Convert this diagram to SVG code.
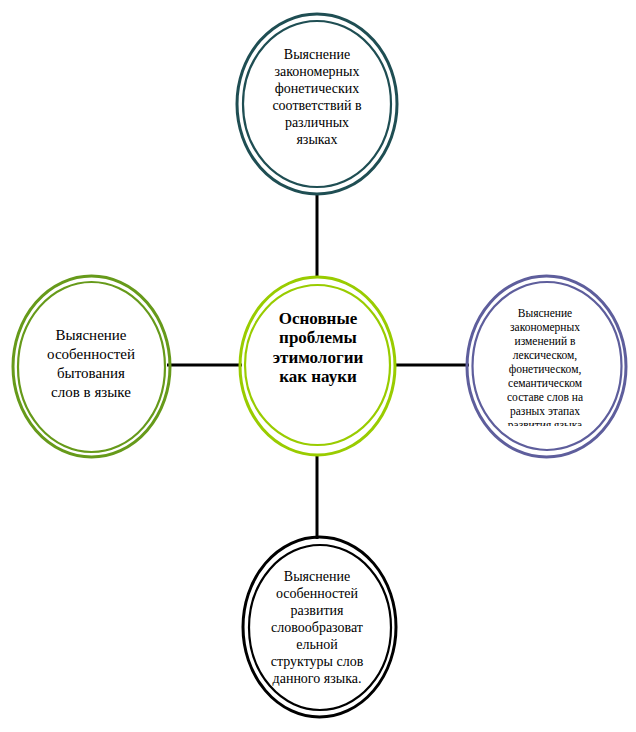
<svg xmlns="http://www.w3.org/2000/svg" width="636" height="732" viewBox="0 0 636 732">
<style>
.t{font-family:"Liberation Serif","Times New Roman",serif;text-anchor:middle;fill:#000}
.o{fill:none;stroke-width:3}
.i{fill:none;stroke-width:2.2}
.c{stroke:#000;stroke-width:3;fill:none}
</style>
<defs>
<clipPath id="rc"><rect x="460" y="270" width="176" height="156"/></clipPath>
</defs>
<rect width="636" height="732" fill="#fff"/>
<g id="connectors">
<line class="c" x1="317" y1="193" x2="317" y2="278"/>
<line class="c" x1="317" y1="455" x2="317" y2="539"/>
<line class="c" x1="167" y1="365" x2="242" y2="365"/>
<line class="c" x1="394" y1="365" x2="469" y2="365"/>
</g>
<g id="top" stroke="#1F4E53">
<ellipse class="o" cx="317" cy="104" rx="80" ry="90"/>
<ellipse class="i" cx="317" cy="104" rx="74" ry="83"/>
<g class="t" font-size="14" stroke="none">
<text x="317" y="59">Выяснение</text>
<text x="317" y="76">закономерных</text>
<text x="317" y="93">фонетических</text>
<text x="317" y="110">соответствий в</text>
<text x="317" y="127">различных</text>
<text x="317" y="144">языках</text>
</g>
</g>
<g id="center" stroke="#99CC00">
<ellipse class="o" cx="317.5" cy="366" rx="77.5" ry="89"/>
<ellipse class="i" cx="317.5" cy="365" rx="72.5" ry="80"/>
<g class="t" font-size="17" font-weight="bold" stroke="none">
<text x="318" y="323.5">Основные</text>
<text x="318" y="343">проблемы</text>
<text x="318" y="362.5">этимологии</text>
<text x="318" y="382">как науки</text>
</g>
</g>
<g id="left" stroke="#669A1A">
<ellipse class="o" cx="91.5" cy="366.5" rx="78.5" ry="90.5"/>
<ellipse class="i" cx="91.5" cy="367" rx="73.5" ry="85"/>
<g class="t" font-size="15" stroke="none">
<text x="91" y="340">Выяснение</text>
<text x="91" y="359">особенностей</text>
<text x="91" y="378">бытования</text>
<text x="91" y="397">слов в языке</text>
</g>
</g>
<g id="right" stroke="#5E5E9C">
<ellipse class="o" cx="546.5" cy="366.5" rx="79.5" ry="90.5"/>
<ellipse class="i" cx="547" cy="366" rx="74.5" ry="84"/>
<g class="t" font-size="11.5" stroke="none" clip-path="url(#rc)">
<text x="545" y="317">Выяснение</text>
<text x="545" y="331">закономерных</text>
<text x="545" y="345">изменений в</text>
<text x="545" y="359">лексическом,</text>
<text x="545" y="373">фонетическом,</text>
<text x="545" y="387">семантическом</text>
<text x="545" y="401">составе слов на</text>
<text x="545" y="415">разных этапах</text>
<text x="545" y="429">развития языка</text>
</g>
</g>
<g id="bottom" stroke="#000">
<ellipse class="o" cx="319.5" cy="627" rx="76.5" ry="90"/>
<ellipse class="i" cx="320" cy="627.5" rx="71" ry="82.5"/>
<g class="t" font-size="14" stroke="none">
<text x="317" y="581">Выяснение</text>
<text x="317" y="598">особенностей</text>
<text x="317" y="615">развития</text>
<text x="317" y="632">словообразоват</text>
<text x="317" y="649">ельной</text>
<text x="317" y="666">структуры слов</text>
<text x="317" y="683">данного языка.</text>
</g>
</g>
</svg>
